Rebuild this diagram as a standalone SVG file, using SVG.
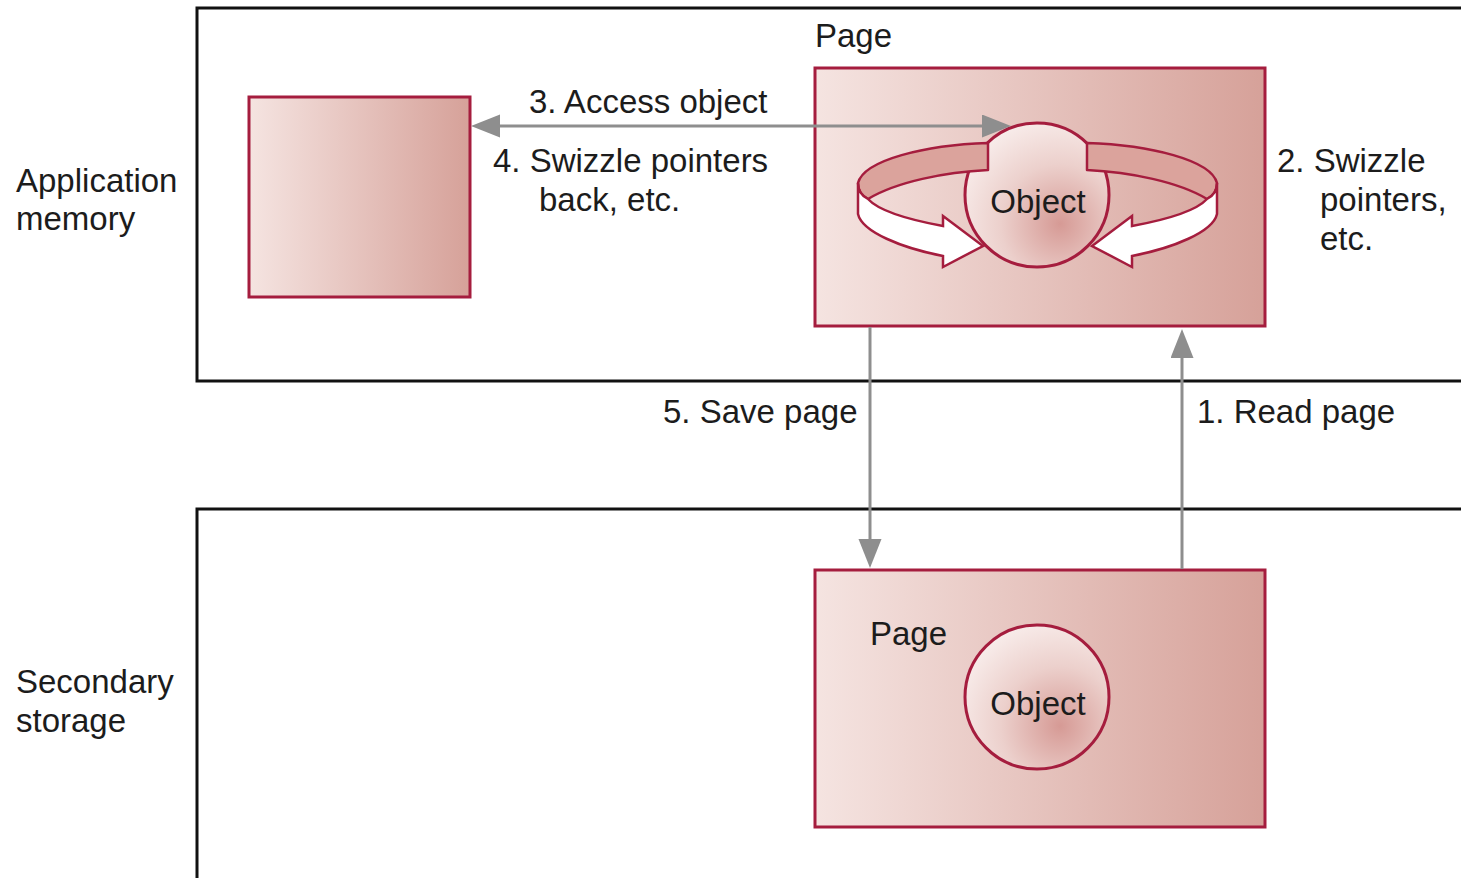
<svg xmlns="http://www.w3.org/2000/svg" width="1461" height="878" viewBox="0 0 1461 878">
  <style>
    .region { fill: #ffffff; stroke: #111111; stroke-width: 3; }
    .page { fill: url(#pageFill); stroke: #a51d3e; stroke-width: 3; }
    .obj { fill: url(#objFill); stroke: #a51d3e; stroke-width: 3; }
    .band { fill: #dba39c; stroke: #a51d3e; stroke-width: 2.5; stroke-linejoin: round; }
    .front { fill: #ffffff; stroke: #a51d3e; stroke-width: 2.5; stroke-linejoin: miter; }
    .lbl { font-family: "Liberation Sans", Arial, sans-serif; font-size: 33px; fill: #1c1c1c; }
    .mid { text-anchor: middle; }
    .conn { fill: none; stroke: #8e8e8e; stroke-width: 3; }
  </style>
  <defs>
    <linearGradient id="pageFill" x1="0" y1="0" x2="1" y2="0">
      <stop offset="0" stop-color="#f5e4e1"/>
      <stop offset="1" stop-color="#d6a199"/>
    </linearGradient>
    <radialGradient id="objFill" cx="0.66" cy="0.7" r="0.75">
      <stop offset="0" stop-color="#d69a95"/>
      <stop offset="0.55" stop-color="#ecd0cc"/>
      <stop offset="1" stop-color="#f8ecea"/>
    </radialGradient>
    <marker id="head" markerUnits="userSpaceOnUse" markerWidth="30" markerHeight="24" refX="20" refY="11.5" orient="auto-start-reverse">
      <path d="M0,0 L29,11.5 L0,23 Z" fill="#8e8e8e"/>
    </marker>
  </defs>

  <!-- memory tiers -->
  <g id="application-memory">
    <rect class="region" x="197" y="8" width="1280" height="373"/>
    <text class="lbl" x="16" y="192">Application</text>
    <text class="lbl" x="16" y="230">memory</text>
  </g>
  <g id="secondary-storage">
    <rect class="region" x="197" y="509" width="1280" height="400"/>
    <text class="lbl" x="16" y="693">Secondary</text>
    <text class="lbl" x="16" y="732">storage</text>
  </g>

  <!-- application-side object holder -->
  <g id="app-object">
    <rect class="page" x="249" y="97" width="221" height="200"/>
  </g>

  <!-- page loaded in memory -->
  <g id="memory-page">
    <text class="lbl" x="815" y="47">Page</text>
    <rect class="page" x="815" y="68" width="450" height="258"/>
  </g>

  <!-- object being swizzled -->
  <g id="memory-object">
    <circle class="obj" cx="1037" cy="195" r="72"/>
    <g id="swizzle-left">
      <path class="band" d="M988,143 C925,145 864,160 858,183 C858,191 862,196 868,199 C896,182 945,172 988,170 Z"/>
      <path class="front" d="M858,183 L858,214 C862,232 902,248 943,256 L943,267 L983,246 L943,216 L943,226 C905,219 878,210 868,199 C862,196 858,191 858,183 Z"/>
    </g>
    <use href="#swizzle-left" transform="translate(2075,0) scale(-1,1)"/>
    <text class="lbl mid" x="1038" y="213">Object</text>
  </g>

  <!-- page on disk -->
  <g id="disk-page">
    <rect class="page" x="815" y="570" width="450" height="257"/>
    <text class="lbl" x="870" y="645">Page</text>
    <circle class="obj" cx="1037" cy="697" r="72"/>
    <text class="lbl mid" x="1038" y="715">Object</text>
  </g>

  <!-- connectors -->
  <g id="connectors">
    <line class="conn" x1="480" y1="126" x2="1002" y2="126" marker-start="url(#head)" marker-end="url(#head)"/>
    <line class="conn" x1="870" y1="327" x2="870" y2="559" marker-end="url(#head)"/>
    <line class="conn" x1="1182" y1="569" x2="1182" y2="338" marker-end="url(#head)"/>
  </g>

  <!-- step labels -->
  <g id="step-labels">
    <text class="lbl" x="529" y="113">3. Access object</text>
    <text class="lbl" x="493" y="172">4. Swizzle pointers</text>
    <text class="lbl" x="539" y="211">back, etc.</text>
    <text class="lbl" x="1277" y="172">2. Swizzle</text>
    <text class="lbl" x="1320" y="211">pointers,</text>
    <text class="lbl" x="1320" y="250">etc.</text>
    <text class="lbl" x="663" y="423">5. Save page</text>
    <text class="lbl" x="1197" y="423">1. Read page</text>
  </g>
</svg>
